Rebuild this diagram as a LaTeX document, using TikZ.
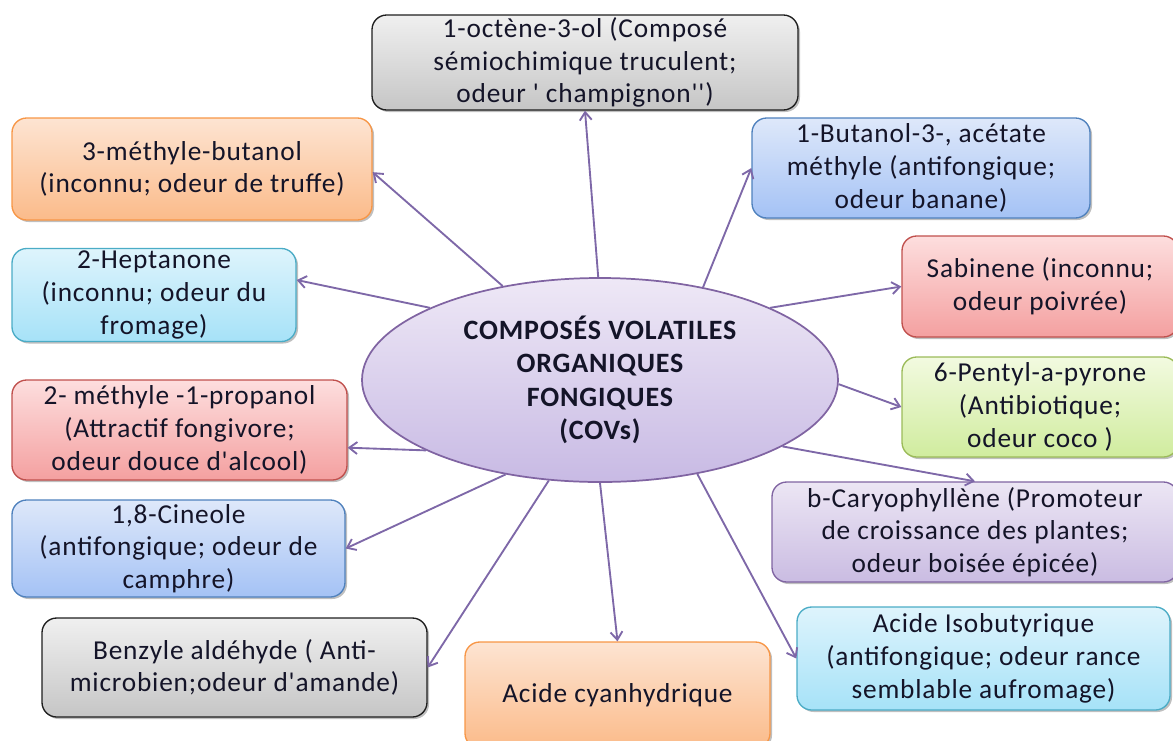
\documentclass[tikz,border=0pt]{standalone}
\usepackage{fontspec}
\setmainfont{Carlito}
\newfontfamily\boitefont{Carlito}[LetterSpace=3]
\usetikzlibrary{arrows.meta,shapes.geometric,shadows}

\definecolor{flechecol}{RGB}{126,104,168}
\definecolor{ellbord}{RGB}{128,100,162}
\definecolor{grisbord}{RGB}{30,30,30}
\definecolor{orangebord}{RGB}{247,150,70}
\definecolor{bleubord}{RGB}{79,129,189}
\definecolor{cyanbord}{RGB}{75,172,198}
\definecolor{rougebord}{RGB}{192,80,77}
\definecolor{vertbord}{RGB}{155,187,89}
\definecolor{violetbord}{RGB}{128,100,162}
\definecolor{textecol}{RGB}{20,20,40}

\tikzset{
  boite/.style={rounded corners=11pt, line width=1pt, align=center, inner sep=0pt,
    text=textecol, font=\boitefont\fontsize{20.5}{24.5}\selectfont,
    drop shadow={shadow xshift=1.5pt, shadow yshift=-1.5pt, opacity=0.25, fill=black}},
  boitegrise/.style={boite, draw=grisbord, top color=gray!12, bottom color=gray!45},
  boiteorange/.style={boite, draw=orangebord, top color={rgb,255:red,253;green,228;blue,210}, bottom color={rgb,255:red,251;green,187;blue,138}},
  boitebleue/.style={boite, draw=bleubord, top color={rgb,255:red,222;green,232;blue,250}, bottom color={rgb,255:red,164;green,194;blue,245}},
  boitecyan/.style={boite, draw=cyanbord, top color={rgb,255:red,222;green,244;blue,252}, bottom color={rgb,255:red,166;green,226;blue,248}},
  boiterouge/.style={boite, draw=rougebord, top color={rgb,255:red,253;green,222;blue,222}, bottom color={rgb,255:red,244;green,160;blue,160}},
  boiteverte/.style={boite, draw=vertbord, top color={rgb,255:red,242;green,250;blue,224}, bottom color={rgb,255:red,208;green,236;blue,158}},
  boiteviolette/.style={boite, draw=violetbord, top color={rgb,255:red,236;green,230;blue,244}, bottom color={rgb,255:red,202;green,188;blue,226}},
  fleche/.style={draw=flechecol, line width=1.4pt, -{Straight Barb[length=6pt,width=9pt]}}
}

\begin{document}
\begin{tikzpicture}[x=0.75pt,y=0.75pt,yscale=-1,xscale=1]
	\clip (0,0) rectangle (1173,740);

	%Shape: Ellipse [id:centre]
	\node [ellipse, draw=ellbord, line width=1.3pt, inner sep=0pt, minimum width=357pt, minimum height=153pt,
	  top color={rgb,255:red,238;green,232;blue,246}, bottom color={rgb,255:red,200;green,186;blue,228},
	  align=center, text=textecol, font=\boitefont\fontsize{21}{25}\selectfont\bfseries] (cov) at (600,380)
	  {COMPOSÉS VOLATILES\\ORGANIQUES\\FONGIQUES\\(COVs)};

	%Shape: Rectangle [id:octene]
	\node [boitegrise, minimum width=319.5pt, minimum height=71.25pt] (oct) at (585,62.5)
	  {1-octène-3-ol (Composé\\sémiochimique truculent;\\odeur ' champignon'')};
	%Shape: Rectangle [id:methylbutanol]
	\node [boiteorange, minimum width=270pt, minimum height=76.5pt] (mbut) at (192,169)
	  {3-méthyle-butanol\\(inconnu; odeur de truffe)};
	%Shape: Rectangle [id:butanol]
	\node [boitebleue, minimum width=253.5pt, minimum height=75pt] (buta) at (921,168)
	  {1-Butanol-3-, acétate\\méthyle (antifongique;\\odeur banane)};
	%Shape: Rectangle [id:heptanone]
	\node [boitecyan, minimum width=213pt, minimum height=69.75pt] (hept) at (154,295)
	  {2-Heptanone\\(inconnu; odeur du\\fromage)};
	%Shape: Rectangle [id:sabinene]
	\node [boiterouge, minimum width=207pt, minimum height=75.75pt] (sab) at (1040,286.5)
	  {Sabinene (inconnu;\\odeur poivrée)};
	%Shape: Rectangle [id:pentyl]
	\node [boiteverte, minimum width=207pt, minimum height=75pt] (pent) at (1040,407)
	  {6-Pentyl-a-pyrone\\(Antibiotique;\\odeur coco )};
	%Shape: Rectangle [id:propanol]
	\node [boiterouge, minimum width=251.25pt, minimum height=75pt] (prop) at (179.5,430)
	  {2- méthyle -1-propanol\\(Attractif fongivore;\\odeur douce d'alcool)};
	%Shape: Rectangle [id:caryophyllene]
	\node [boiteviolette, minimum width=304.5pt, minimum height=75pt] (caryo) at (975,532)
	  {b-Caryophyllène (Promoteur\\de croissance des plantes;\\odeur boisée épicée)};
	%Shape: Rectangle [id:cineole]
	\node [boitebleue, minimum width=249.75pt, minimum height=72.75pt] (cin) at (178.5,548.5)
	  {1,8-Cineole\\(antifongique; odeur de\\camphre)};
	%Shape: Rectangle [id:benzyle]
	\node [boitegrise, minimum width=288.75pt, minimum height=74.25pt] (benz) at (234.5,667.5)
	  {Benzyle aldéhyde ( Anti-\\microbien;odeur d'amande)};
	%Shape: Rectangle [id:cyanhydrique]
	\node [boiteorange, minimum width=228.75pt, minimum height=79.5pt] (cyan) at (617.5,695)
	  {Acide cyanhydrique};
	%Shape: Rectangle [id:isobutyrique]
	\node [boitecyan, minimum width=279.75pt, minimum height=77.25pt] (iso) at (983.5,658.5)
	  {Acide Isobutyrique\\(antifongique; odeur rance\\semblable aufromage)};

	%Straight Lines
	\draw [fleche] (cov.91) -- (oct.south);
	\draw [fleche] (cov.136) -- (mbut.-1);
	\draw [fleche] (cov.42) -- (buta.west);
	\draw [fleche] (cov.157) -- (hept.6);
	\draw [fleche] (cov.23) -- (sab.west);
	\draw [fleche] (cov.-1) -- (pent.west);
	\draw [fleche] (cov.202) -- (prop.-6);
	\draw [fleche] (cov.-20) -- (caryo.north);
	\draw [fleche] (cov.225) -- (cin.east);
	\draw [fleche] (cov.243) -- (benz.east);
	\draw [fleche] (cov.270) -- (cyan.north);
	\draw [fleche] (cov.-44) -- (iso.west);

\end{tikzpicture}
\end{document}
